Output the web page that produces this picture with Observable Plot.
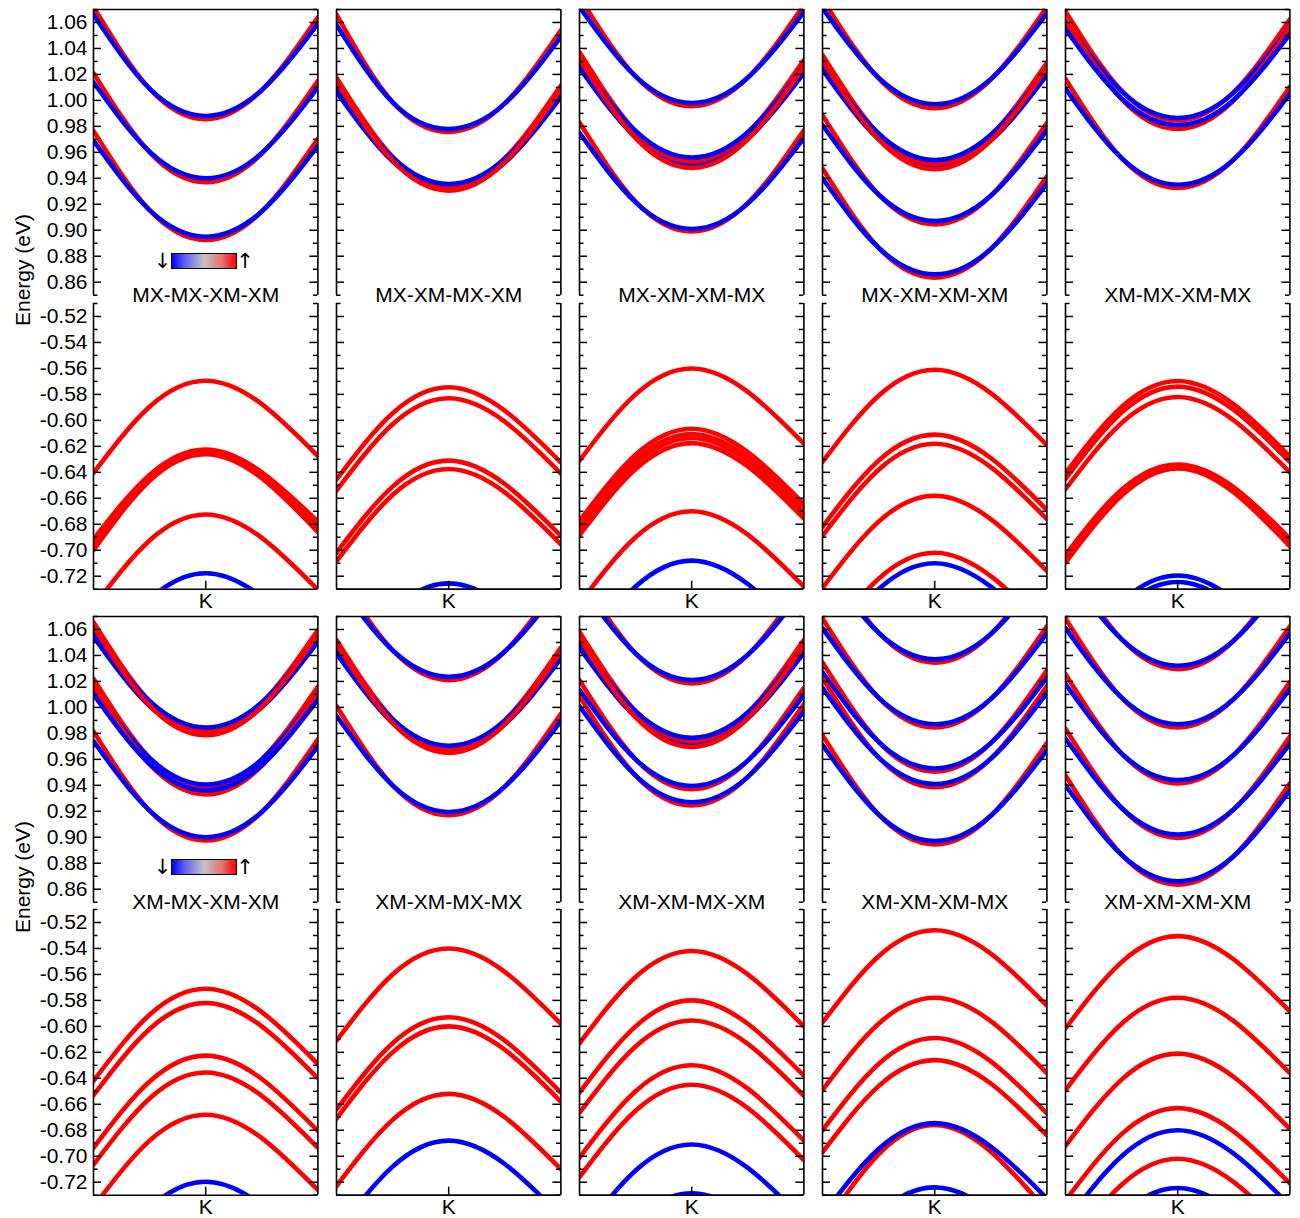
<!DOCTYPE html>
<html>
<head>
<meta charset="utf-8">
<script src="https://cdn.jsdelivr.net/npm/d3@7"></script>
<script src="https://cdn.jsdelivr.net/npm/@observablehq/plot@0.6"></script>
<style>
  html, body { margin: 0; padding: 0; background: #fff; }
  body { font-family: "Liberation Sans", Arial, Helvetica, sans-serif; }
  #chart { position: relative; width: 1300px; height: 1218px; overflow: hidden; background: #fff; }
  #chart svg { position: absolute; overflow: visible; }
  .ylab { position: absolute; font-size: 21px; white-space: nowrap; transform: translate(-50%, -50%) rotate(-90deg); color: #000; }
  .cbar { position: absolute; box-sizing: border-box; border: 1.5px solid #000;
          background: linear-gradient(to right, #0000ff 0%, #6060f0 20%, #c4c4c4 50%, #e87070 78%, #ff0000 100%); }
  .arrow { position: absolute; font-family: "DejaVu Sans", sans-serif; font-size: 21px; line-height: 1; transform: translate(-50%, -50%); color: #000; }
</style>
</head>
<body>
<div id="chart"></div>
<script>
// ---------------- data ----------------
const kPoints = [-1, -0.5, 0, 0.5, 1];          // k relative to K (K at 0)
const kDomain = [-1, 1];
const kLabels = [{ k: 0, label: "K" }];

const configsRow1 = ["MX-MX-XM-XM", "MX-XM-MX-XM", "MX-XM-XM-MX", "MX-XM-XM-XM", "XM-MX-XM-MX"];
const configsRow2 = ["XM-MX-XM-XM", "XM-XM-MX-MX", "XM-XM-MX-XM", "XM-XM-XM-MX", "XM-XM-XM-XM"];

const cbDomain = [0.85, 1.07];
const vbDomain = [-0.73, -0.51];
const cbMajorTicks = [0.86, 0.88, 0.90, 0.92, 0.94, 0.96, 0.98, 1.00, 1.02, 1.04, 1.06];
const cbMinorTicks = [0.85, 0.87, 0.89, 0.91, 0.93, 0.95, 0.97, 0.99, 1.01, 1.03, 1.05, 1.07];
const vbMajorTicks = [-0.72, -0.70, -0.68, -0.66, -0.64, -0.62, -0.60, -0.58, -0.56, -0.54, -0.52];
const vbMinorTicks = [-0.73, -0.71, -0.69, -0.67, -0.65, -0.63, -0.61, -0.59, -0.57, -0.55, -0.53, -0.51];

const spinDomain = ["up", "dn"];
const spinColors = ["#ff0000", "#0000ff"];

// each band: [spin, E(k=-1), E(-0.5), E(0)=E(K), E(0.5), E(1)]  (eV); drawn in listed order
// ---- row 1, conduction bands ----
const cb_MX_MX_XM_XM = [
  ["up", 1.072, 1.009, 0.9855, 1.008, 1.064],
  ["dn", 1.066, 1.009, 0.988, 1.008, 1.059],
  ["up", 1.021, 0.960, 0.937, 0.959, 1.015],
  ["dn", 1.014, 0.9605, 0.940, 0.9595, 1.010],
  ["up", 0.9765, 0.9155, 0.8925, 0.9145, 0.9705],
  ["dn", 0.969, 0.9155, 0.895, 0.9145, 0.965]
];
const cb_MX_XM_MX_XM = [
  ["up", 1.066, 0.9987, 0.9757, 0.9977, 1.054],
  ["dn", 1.058, 0.9985, 0.978, 0.9975, 1.049],
  ["dn", 1.0065, 0.953, 0.9325, 0.952, 1.0025],
  ["up", 1.0175, 0.9565, 0.9335, 0.9555, 1.0115],
  ["dn", 1.0095, 0.956, 0.9355, 0.955, 1.0055],
  ["up", 1.0145, 0.9535, 0.9305, 0.9525, 1.0085]
];
const cb_MX_XM_XM_MX = [
  ["up", 1.0795, 1.0185, 0.9955, 1.0175, 1.0735],
  ["dn", 1.072, 1.0185, 0.998, 1.0175, 1.068],
  ["dn", 1.025, 0.9715, 0.951, 0.9705, 1.021],
  ["up", 1.037, 0.976, 0.953, 0.975, 1.031],
  ["dn", 1.030, 0.9765, 0.956, 0.9755, 1.026],
  ["up", 1.032, 0.971, 0.948, 0.970, 1.026],
  ["up", 0.983, 0.922, 0.899, 0.921, 0.977],
  ["dn", 0.975, 0.9215, 0.901, 0.9205, 0.971]
];
const cb_MX_XM_XM_XM = [
  ["up", 1.078, 1.017, 0.994, 1.016, 1.072],
  ["dn", 1.071, 1.0175, 0.997, 1.0165, 1.067],
  ["dn", 1.0235, 0.970, 0.9495, 0.969, 1.0195],
  ["up", 1.035, 0.974, 0.951, 0.973, 1.029],
  ["dn", 1.028, 0.9745, 0.954, 0.9735, 1.024],
  ["up", 1.031, 0.970, 0.947, 0.969, 1.025],
  ["up", 0.9885, 0.9275, 0.9045, 0.9265, 0.9825],
  ["dn", 0.981, 0.9275, 0.907, 0.9265, 0.977],
  ["up", 0.9475, 0.8865, 0.8635, 0.8855, 0.9415],
  ["dn", 0.940, 0.8865, 0.866, 0.8855, 0.936]
];
const cb_XM_MX_XM_MX = [
  ["up", 1.0685, 1.0075, 0.9845, 1.0065, 1.0625],
  ["dn", 1.0605, 1.007, 0.9865, 1.006, 1.0565],
  ["up", 1.062, 1.001, 0.978, 1.000, 1.056],
  ["dn", 1.055, 1.0015, 0.981, 1.0005, 1.051],
  ["up", 1.0165, 0.9555, 0.9325, 0.9545, 1.0105],
  ["dn", 1.009, 0.9555, 0.935, 0.9545, 1.005]
];
// ---- row 2, conduction bands ----
const cb_XM_MX_XM_XM = [
  ["dn", 1.0545, 1.001, 0.9805, 1.000, 1.0505],
  ["up", 1.0655, 1.0045, 0.9815, 1.0035, 1.0595],
  ["dn", 1.0585, 1.005, 0.9845, 1.004, 1.0545],
  ["up", 1.0625, 1.0015, 0.9785, 1.0005, 1.0565],
  ["up", 1.022, 0.961, 0.938, 0.960, 1.016],
  ["dn", 1.0145, 0.961, 0.9405, 0.960, 1.0105],
  ["up", 1.017, 0.956, 0.933, 0.955, 1.011],
  ["dn", 1.010, 0.9565, 0.936, 0.9555, 1.006],
  ["up", 0.9815, 0.9205, 0.8975, 0.9195, 0.9755],
  ["dn", 0.974, 0.9205, 0.900, 0.9195, 0.970]
];
const cb_XM_XM_MX_MX = [
  ["up", 1.105, 1.044, 1.021, 1.043, 1.099],
  ["dn", 1.0975, 1.044, 1.0235, 1.043, 1.0935],
  ["dn", 1.0415, 0.988, 0.9675, 0.987, 1.0375],
  ["up", 1.052, 0.991, 0.968, 0.990, 1.046],
  ["dn", 1.0445, 0.991, 0.9705, 0.990, 1.0405],
  ["up", 1.049, 0.988, 0.965, 0.987, 1.043],
  ["up", 1.001, 0.940, 0.917, 0.939, 0.995],
  ["dn", 0.9935, 0.940, 0.9195, 0.939, 0.9895]
];
const cb_XM_XM_MX_XM = [
  ["up", 1.1025, 1.0415, 1.0185, 1.0405, 1.0965],
  ["dn", 1.095, 1.0415, 1.021, 1.0405, 1.091],
  ["dn", 1.046, 0.9925, 0.972, 0.9915, 1.042],
  ["up", 1.058, 0.997, 0.974, 0.996, 1.052],
  ["dn", 1.0505, 0.997, 0.9765, 0.996, 1.0465],
  ["up", 1.0535, 0.9925, 0.9695, 0.9915, 1.0475],
  ["up", 1.021, 0.960, 0.937, 0.959, 1.015],
  ["dn", 1.0135, 0.960, 0.9395, 0.959, 1.0095],
  ["up", 1.0085, 0.9475, 0.9245, 0.9465, 1.0025],
  ["dn", 1.001, 0.9475, 0.927, 0.9465, 0.997]
];
const cb_XM_XM_XM_MX = [
  ["up", 1.1185, 1.0575, 1.0345, 1.0565, 1.1125],
  ["dn", 1.111, 1.0575, 1.037, 1.0565, 1.107],
  ["up", 1.0685, 1.0075, 0.9845, 1.0065, 1.0625],
  ["dn", 1.061, 1.0075, 0.987, 1.0065, 1.057],
  ["up", 1.0345, 0.9735, 0.9505, 0.9725, 1.0285],
  ["dn", 1.027, 0.9735, 0.953, 0.9725, 1.023],
  ["up", 1.0225, 0.9615, 0.9385, 0.9605, 1.0165],
  ["dn", 1.015, 0.9615, 0.941, 0.9605, 1.011],
  ["up", 0.9785, 0.9175, 0.8945, 0.9165, 0.9725],
  ["dn", 0.971, 0.9175, 0.897, 0.9165, 0.967]
];
const cb_XM_XM_XM_XM = [
  ["up", 1.1135, 1.0525, 1.0295, 1.0515, 1.1075],
  ["dn", 1.106, 1.0525, 1.032, 1.0515, 1.102],
  ["up", 1.0685, 1.0075, 0.9845, 1.0065, 1.0625],
  ["dn", 1.061, 1.0075, 0.987, 1.0065, 1.057],
  ["up", 1.0255, 0.9645, 0.9415, 0.9635, 1.0195],
  ["dn", 1.018, 0.9645, 0.944, 0.9635, 1.014],
  ["up", 0.9835, 0.9225, 0.8995, 0.9215, 0.9775],
  ["dn", 0.976, 0.9225, 0.902, 0.9215, 0.972],
  ["up", 0.9475, 0.8865, 0.8635, 0.8855, 0.9415],
  ["dn", 0.940, 0.8865, 0.866, 0.8855, 0.936]
];
// ---- row 1, valence bands ----
const vb_MX_MX_XM_XM = [
  ["up", -0.6405, -0.5895, -0.5695, -0.5875, -0.6275],
  ["up", -0.6915, -0.642, -0.6225, -0.640, -0.678],
  ["up", -0.6935, -0.6435, -0.6235, -0.6415, -0.680],
  ["up", -0.697, -0.645, -0.625, -0.643, -0.6835],
  ["up", -0.700, -0.6465, -0.626, -0.6445, -0.686],
  ["up", -0.7435, -0.6925, -0.6725, -0.6905, -0.7305],
  ["dn", -0.7887, -0.7377, -0.7177, -0.7357, -0.7757]
];
const vb_MX_XM_MX_XM = [
  ["up", -0.6455, -0.5945, -0.5745, -0.5925, -0.6325],
  ["up", -0.654, -0.603, -0.583, -0.601, -0.641],
  ["up", -0.702, -0.651, -0.631, -0.649, -0.689],
  ["up", -0.7085, -0.6575, -0.6375, -0.6555, -0.6955],
  ["dn", -0.7965, -0.7455, -0.7255, -0.7435, -0.7835]
];
const vb_MX_XM_XM_MX = [
  ["up", -0.631, -0.580, -0.560, -0.578, -0.618],
  ["up", -0.6775, -0.6265, -0.6065, -0.6245, -0.6645],
  ["up", -0.6815, -0.6305, -0.6105, -0.6285, -0.6685],
  ["up", -0.6845, -0.6335, -0.6135, -0.6315, -0.6715],
  ["up", -0.6885, -0.6375, -0.6175, -0.6355, -0.6755],
  ["up", -0.741, -0.690, -0.670, -0.688, -0.728],
  ["dn", -0.779, -0.728, -0.708, -0.726, -0.766]
];
const vb_MX_XM_XM_XM = [
  ["up", -0.632, -0.581, -0.561, -0.579, -0.619],
  ["up", -0.682, -0.631, -0.611, -0.629, -0.669],
  ["up", -0.689, -0.638, -0.618, -0.636, -0.676],
  ["up", -0.729, -0.678, -0.658, -0.676, -0.716],
  ["up", -0.773, -0.722, -0.702, -0.720, -0.760],
  ["dn", -0.781, -0.730, -0.710, -0.728, -0.768]
];
const vb_XM_MX_XM_MX = [
  ["up", -0.6407, -0.5897, -0.5697, -0.5877, -0.6277],
  ["up", -0.645, -0.594, -0.574, -0.592, -0.632],
  ["up", -0.653, -0.602, -0.582, -0.600, -0.640],
  ["up", -0.7035, -0.6535, -0.634, -0.6515, -0.691],
  ["up", -0.7055, -0.655, -0.635, -0.653, -0.693],
  ["up", -0.7075, -0.6565, -0.636, -0.6545, -0.695],
  ["up", -0.7095, -0.658, -0.637, -0.6555, -0.697],
  ["dn", -0.7905, -0.7395, -0.7195, -0.7375, -0.7775],
  ["dn", -0.7955, -0.7445, -0.7245, -0.7425, -0.7825]
];
// ---- row 2, valence bands ----
const vb_XM_MX_XM_XM = [
  ["up", -0.642, -0.591, -0.571, -0.589, -0.629],
  ["up", -0.653, -0.602, -0.582, -0.600, -0.640],
  ["up", -0.6935, -0.6425, -0.6225, -0.6405, -0.6805],
  ["up", -0.7065, -0.6555, -0.6355, -0.6535, -0.6935],
  ["up", -0.739, -0.688, -0.668, -0.686, -0.726],
  ["dn", -0.7907, -0.7397, -0.7197, -0.7377, -0.7777]
];
const vb_XM_XM_MX_MX = [
  ["up", -0.611, -0.560, -0.540, -0.558, -0.598],
  ["up", -0.664, -0.613, -0.593, -0.611, -0.651],
  ["up", -0.671, -0.620, -0.600, -0.618, -0.658],
  ["up", -0.723, -0.672, -0.652, -0.670, -0.710],
  ["dn", -0.759, -0.708, -0.688, -0.706, -0.746]
];
const vb_XM_XM_MX_XM = [
  ["up", -0.613, -0.562, -0.542, -0.560, -0.600],
  ["up", -0.651, -0.600, -0.580, -0.598, -0.638],
  ["up", -0.6665, -0.6155, -0.5955, -0.6135, -0.6535],
  ["up", -0.701, -0.650, -0.630, -0.648, -0.688],
  ["up", -0.716, -0.665, -0.645, -0.663, -0.703],
  ["dn", -0.762, -0.711, -0.691, -0.709, -0.749],
  ["dn", -0.7995, -0.7485, -0.7285, -0.7465, -0.7865]
];
const vb_XM_XM_XM_MX = [
  ["up", -0.597, -0.546, -0.526, -0.544, -0.584],
  ["up", -0.649, -0.598, -0.578, -0.596, -0.636],
  ["up", -0.680, -0.629, -0.609, -0.627, -0.667],
  ["up", -0.697, -0.646, -0.626, -0.644, -0.684],
  ["up", -0.756, -0.6985, -0.676, -0.6965, -0.742],
  ["dn", -0.7455, -0.6945, -0.6745, -0.6925, -0.7325],
  ["dn", -0.795, -0.744, -0.724, -0.742, -0.782]
];
const vb_XM_XM_XM_XM = [
  ["up", -0.6015, -0.5505, -0.5305, -0.5485, -0.5885],
  ["up", -0.649, -0.598, -0.578, -0.596, -0.636],
  ["up", -0.692, -0.641, -0.621, -0.639, -0.679],
  ["up", -0.734, -0.683, -0.663, -0.681, -0.721],
  ["up", -0.773, -0.722, -0.702, -0.720, -0.760],
  ["dn", -0.751, -0.700, -0.680, -0.698, -0.738],
  ["dn", -0.7955, -0.7445, -0.7245, -0.7425, -0.7825]
];

const conductionRow1 = [cb_MX_MX_XM_XM, cb_MX_XM_MX_XM, cb_MX_XM_XM_MX, cb_MX_XM_XM_XM, cb_XM_MX_XM_MX];
const conductionRow2 = [cb_XM_MX_XM_XM, cb_XM_XM_MX_MX, cb_XM_XM_MX_XM, cb_XM_XM_XM_MX, cb_XM_XM_XM_XM];
const valenceRow1 = [vb_MX_MX_XM_XM, vb_MX_XM_MX_XM, vb_MX_XM_XM_MX, vb_MX_XM_XM_XM, vb_XM_MX_XM_MX];
const valenceRow2 = [vb_XM_MX_XM_XM, vb_XM_XM_MX_MX, vb_XM_XM_MX_XM, vb_XM_XM_XM_MX, vb_XM_XM_XM_XM];

// ---------------- layout ----------------
const W = 224.4, H = 285.7;
const colLeft = [93.3, 336.3, 579.3, 822.3, 1065.3];
const rowTop = [9.3, 615.9];
const gapTB = 7.7;
const FONT = '"Liberation Sans", Arial, Helvetica, sans-serif';

function toRows(bands) {
  return bands.flatMap((b, i) => kPoints.map((k, j) => ({ k, E: b[j + 1], spin: b[0], id: i })));
}

function panel({ bands, isTop, col, title }) {
  const domain = isTop ? cbDomain : vbDomain;
  const majors = isTop ? cbMajorTicks : vbMajorTicks;
  const minors = isTop ? cbMinorTicks : vbMinorTicks;
  const mL = col === 0 ? 82 : 4, mR = 4, mT = 4, mB = isTop ? 16 : 30;
  const rows = toRows(bands);
  const marks = [
    Plot.line(rows, { x: "k", y: "E", z: "id", stroke: "spin", strokeWidth: 4.6, curve: "natural", clip: true }),
    Plot.ruleX(kDomain, { stroke: "#000", strokeWidth: 1.6 }),
    Plot.ruleY([isTop ? domain[1] : domain[0]], { stroke: "#000", strokeWidth: 1.6 }),
    Plot.tickY(minors, { y: d => d, insetRight: W - 4.5, stroke: "#000", strokeWidth: 1.5 }),
    Plot.tickY(minors, { y: d => d, insetLeft: W - 4.5, stroke: "#000", strokeWidth: 1.5 }),
    Plot.tickY(majors, { y: d => d, insetRight: W - 8, stroke: "#000", strokeWidth: 1.5 }),
    Plot.tickY(majors, { y: d => d, insetLeft: W - 8, stroke: "#000", strokeWidth: 1.5 })
  ];
  if (col === 0) {
    marks.push(Plot.text(majors, {
      y: d => d, frameAnchor: "left", dx: -6, textAnchor: "end",
      text: d => d.toFixed(2), fontSize: 21, fill: "#000"
    }));
  }
  if (isTop) {
    marks.push(Plot.text([title], {
      frameAnchor: "bottom", text: d => d, fontSize: 21, lineAnchor: "middle", fill: "#000"
    }));
  } else {
    marks.push(Plot.tickX(kLabels, { x: "k", insetTop: H - 8, stroke: "#000", strokeWidth: 1.5 }));
    marks.push(Plot.text(kLabels, {
      x: "k", frameAnchor: "bottom", dy: 12.5, text: "label", fontSize: 21, lineAnchor: "middle", fill: "#000"
    }));
  }
  const svg = Plot.plot({
    width: mL + W + mR, height: mT + H + mB,
    marginLeft: mL, marginRight: mR, marginTop: mT, marginBottom: mB,
    x: { domain: kDomain, axis: null },
    y: { domain, axis: null },
    color: { domain: spinDomain, range: spinColors },
    style: { background: "transparent", fontFamily: FONT, fontSize: "21px", overflow: "visible" },
    marks
  });
  return { svg, mL, mT };
}

const chart = document.getElementById("chart");
const rowsDef = [
  { configs: configsRow1, cond: conductionRow1, val: valenceRow1 },
  { configs: configsRow2, cond: conductionRow2, val: valenceRow2 }
];

rowsDef.forEach((row, r) => {
  const top0 = rowTop[r];
  for (let c = 0; c < 5; c++) {
    const t = panel({ bands: row.cond[c], isTop: true, col: c, title: row.configs[c] });
    t.svg.style.left = (colLeft[c] - t.mL) + "px";
    t.svg.style.top = (top0 - t.mT) + "px";
    chart.appendChild(t.svg);
    const b = panel({ bands: row.val[c], isTop: false, col: c });
    b.svg.style.left = (colLeft[c] - b.mL) + "px";
    b.svg.style.top = (top0 + H + gapTB - b.mT) + "px";
    chart.appendChild(b.svg);
  }
  const yl = document.createElement("div");
  yl.className = "ylab";
  yl.textContent = "Energy (eV)";
  yl.style.left = "23px";
  yl.style.top = (top0 + 261) + "px";
  chart.appendChild(yl);
  const bar = document.createElement("div");
  bar.className = "cbar";
  bar.style.left = "171px";
  bar.style.top = (top0 + 243.4) + "px";
  bar.style.width = "65.5px";
  bar.style.height = "16px";
  chart.appendChild(bar);
  const dn = document.createElement("div");
  dn.className = "arrow"; dn.textContent = "↓";
  dn.style.left = "162.5px"; dn.style.top = (top0 + 251.5) + "px";
  chart.appendChild(dn);
  const up = document.createElement("div");
  up.className = "arrow"; up.textContent = "↑";
  up.style.left = "245px"; up.style.top = (top0 + 251.5) + "px";
  chart.appendChild(up);
});
</script>
</body>
</html>
